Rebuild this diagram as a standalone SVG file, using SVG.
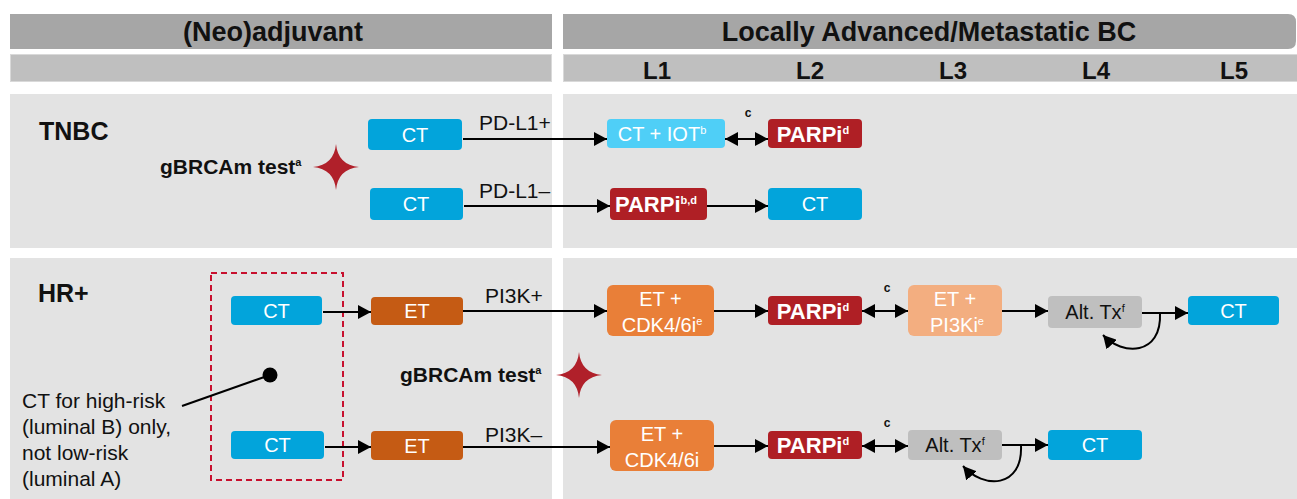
<svg xmlns="http://www.w3.org/2000/svg" width="1297" height="499" viewBox="0 0 1297 499">
  <defs>
    <style>
      text { font-family: "Liberation Sans", Arial, sans-serif; }
      .hdr { font-size: 27px; font-weight: bold; fill: #111; text-anchor: middle; }
      .ln { font-size: 24px; font-weight: bold; fill: #111; text-anchor: middle; }
      .grp { font-size: 25px; font-weight: bold; fill: #111; }
      .lbl { font-size: 21px; fill: #111; }
      .bt { font-size: 20px; fill: #fff; text-anchor: middle; }
      .btb { font-size: 22px; font-weight: bold; fill: #fff; text-anchor: middle; }
      .btk { font-size: 20px; fill: #111; text-anchor: middle; }
      .test { font-size: 21px; font-weight: bold; fill: #111; }
      .c { font-size: 12px; font-weight: bold; fill: #111; text-anchor: middle; }
      .sup { font-size: 11px; }
      .edge { stroke: #000; stroke-width: 2; fill: none; }
      .ct { fill: #02A4DB; }
      .iot { fill: #4FCFF7; }
      .parp { fill: #AF1F25; }
      .et { fill: #C55B14; }
      .etc { fill: #E97F38; }
      .etp { fill: #F3AE80; }
      .alt { fill: #BFBFBF; }
      .star { fill: #B0202A; }
    </style>
    <marker id="ah" viewBox="0 0 13 14" refX="13" refY="7" markerWidth="13" markerHeight="14" markerUnits="userSpaceOnUse" orient="auto-start-reverse">
      <path d="M0,0 L13,7 L0,14 Z" fill="#000"/>
    </marker>
    <path id="star4" d="M0,-23 Q2,-2 23,0 Q2,2 0,23 Q-2,2 -23,0 Q-2,-2 0,-23 Z"/>
  </defs>

  <!-- header bars -->
  <g id="header">
    <rect x="10" y="14" width="542" height="35" fill="#A6A6A6"/>
    <path d="M563,14 H1288 Q1296,14 1296,22 V41 Q1296,49 1288,49 H563 Z" fill="#A6A6A6"/>
    <rect x="10.5" y="54.5" width="541" height="27" fill="#BFBFBF" stroke="#D9D9D9" stroke-width="1"/>
    <rect x="563.5" y="54.5" width="734" height="27" fill="#BFBFBF" stroke="#D9D9D9" stroke-width="1"/>
    <text class="hdr" x="273" y="41">(Neo)adjuvant</text>
    <text class="hdr" x="929" y="41">Locally Advanced/Metastatic BC</text>
    <text class="ln" x="657" y="79">L1</text>
    <text class="ln" x="810" y="79">L2</text>
    <text class="ln" x="953" y="79">L3</text>
    <text class="ln" x="1096" y="79">L4</text>
    <text class="ln" x="1234" y="79">L5</text>
  </g>

  <!-- background panels -->
  <g id="panels" fill="#E3E3E3">
    <rect x="10" y="94" width="542" height="154"/>
    <rect x="563" y="94" width="734" height="154"/>
    <rect x="10" y="258" width="542" height="241"/>
    <rect x="563" y="258" width="734" height="241"/>
  </g>

  <!-- section labels and test markers -->
  <g id="tnbc-label"><text class="grp" x="39" y="140">TNBC</text></g>
  <g id="hr-label"><text class="grp" x="38" y="302">HR+</text></g>
  <g id="test-tnbc">
    <text class="test" x="160" y="174">gBRCAm test<tspan class="sup" dy="-8">a</tspan></text>
    <use href="#star4" class="star" x="336" y="167"/>
  </g>
  <g id="test-hr">
    <text class="test" x="400" y="382">gBRCAm test<tspan class="sup" dy="-8">a</tspan></text>
    <use href="#star4" class="star" x="579" y="375"/>
  </g>

  <!-- luminal B note -->
  <g id="note">
    <rect x="211" y="273" width="132" height="207" fill="none" stroke="#C8102E" stroke-width="2" stroke-dasharray="6,4"/>
    <path d="M182,406 L270,375" stroke="#000" stroke-width="2"/>
    <circle cx="270" cy="375" r="7.5" fill="#000"/>
    <text class="lbl" x="22" y="408">CT for high-risk</text>
    <text class="lbl" x="22" y="434">(luminal B) only,</text>
    <text class="lbl" x="22" y="460">not low-risk</text>
    <text class="lbl" x="22" y="486">(luminal A)</text>
  </g>

  <!-- connectors -->
  <g id="connectors" class="edge">
    <path d="M463,139 H607" marker-end="url(#ah)"/>
    <path d="M725,139 H768" marker-start="url(#ah)" marker-end="url(#ah)"/>
    <path d="M464,206 H610" marker-end="url(#ah)"/>
    <path d="M707,206 H768" marker-end="url(#ah)"/>

    <path d="M323,312 H371" marker-end="url(#ah)"/>
    <path d="M463,311 H607" marker-end="url(#ah)"/>
    <path d="M714,311 H768" marker-end="url(#ah)"/>
    <path d="M862,311 H908" marker-start="url(#ah)" marker-end="url(#ah)"/>
    <path d="M1002,311 H1048" marker-end="url(#ah)"/>
    <path d="M1142,313 H1188" marker-end="url(#ah)"/>
    <path d="M1160,313 C1162,356 1122,356 1103,335" marker-end="url(#ah)"/>

    <path d="M325,447 H371" marker-end="url(#ah)"/>
    <path d="M463,447 H610" marker-end="url(#ah)"/>
    <path d="M714,446 H768" marker-end="url(#ah)"/>
    <path d="M862,446 H908" marker-start="url(#ah)" marker-end="url(#ah)"/>
    <path d="M1002,445 H1048" marker-end="url(#ah)"/>
    <path d="M1021,445 C1023,489 983,489 963,466" marker-end="url(#ah)"/>
  </g>
  <g id="crossover-labels">
    <text class="lbl" x="479" y="130">PD-L1+</text>
    <text class="lbl" x="479" y="198">PD-L1–</text>
    <text class="lbl" x="485" y="303">PI3K+</text>
    <text class="lbl" x="485" y="442">PI3K–</text>
    <text class="c" x="748" y="117">c</text>
    <text class="c" x="887" y="292">c</text>
    <text class="c" x="887" y="427">c</text>
  </g>

  <!-- TNBC nodes -->
  <g id="tnbc-ct-pos"><rect class="ct" x="368" y="119" width="94" height="31" rx="4"/><text class="bt" x="415" y="142">CT</text></g>
  <g id="tnbc-ct-iot"><rect class="iot" x="607" y="119" width="118" height="29" rx="4"/><text class="bt" x="662" y="141">CT + IOT<tspan class="sup" dy="-7">b</tspan></text></g>
  <g id="tnbc-parpi-1"><rect class="parp" x="768" y="119" width="94" height="29" rx="4"/><text class="btb" x="813" y="142">PARPi<tspan class="sup" dy="-8">d</tspan></text></g>
  <g id="tnbc-ct-neg"><rect class="ct" x="370" y="188" width="93" height="32" rx="4"/><text class="bt" x="416" y="211">CT</text></g>
  <g id="tnbc-parpi-2"><rect class="parp" x="610" y="188" width="97" height="32" rx="4"/><text class="btb" x="656" y="212">PARPi<tspan class="sup" dy="-8">b,d</tspan></text></g>
  <g id="tnbc-ct-l2"><rect class="ct" x="768" y="188" width="94" height="32" rx="4"/><text class="bt" x="815" y="211">CT</text></g>

  <!-- HR+ PI3K+ row -->
  <g id="hr-ct-1"><rect class="ct" x="231" y="296" width="91" height="29" rx="4"/><text class="bt" x="276.5" y="318">CT</text></g>
  <g id="hr-et-1"><rect class="et" x="371" y="297" width="92" height="28" rx="4"/><text class="bt" x="417" y="318">ET</text></g>
  <g id="hr-et-cdk-1"><rect class="etc" x="607" y="285" width="107" height="51" rx="6"/><text class="bt" x="660.5" y="306">ET +</text><text class="bt" x="662" y="332">CDK4/6i<tspan class="sup" dy="-7">e</tspan></text></g>
  <g id="hr-parpi-1"><rect class="parp" x="768" y="296" width="94" height="29" rx="4"/><text class="btb" x="813" y="319">PARPi<tspan class="sup" dy="-8">d</tspan></text></g>
  <g id="hr-et-pi3ki"><rect class="etp" x="908" y="285" width="94" height="51" rx="6"/><text class="bt" x="955" y="306">ET +</text><text class="bt" x="957" y="332">PI3Ki<tspan class="sup" dy="-7">e</tspan></text></g>
  <g id="hr-alt-1"><rect class="alt" x="1048" y="296" width="94" height="32" rx="4"/><text class="btk" x="1095" y="319">Alt. Tx<tspan class="sup" dy="-7">f</tspan></text></g>
  <g id="hr-ct-l5"><rect class="ct" x="1188" y="296" width="91" height="29" rx="4"/><text class="bt" x="1233.5" y="318">CT</text></g>

  <!-- HR+ PI3K– row -->
  <g id="hr-ct-2"><rect class="ct" x="231" y="431" width="93" height="28" rx="4"/><text class="bt" x="277.5" y="452">CT</text></g>
  <g id="hr-et-2"><rect class="et" x="371" y="431" width="92" height="29" rx="4"/><text class="bt" x="417" y="453">ET</text></g>
  <g id="hr-et-cdk-2"><rect class="etc" x="610" y="420" width="104" height="51" rx="6"/><text class="bt" x="662" y="441">ET +</text><text class="bt" x="662" y="467">CDK4/6i</text></g>
  <g id="hr-parpi-2"><rect class="parp" x="768" y="431" width="94" height="28" rx="4"/><text class="btb" x="813" y="453">PARPi<tspan class="sup" dy="-8">d</tspan></text></g>
  <g id="hr-alt-2"><rect class="alt" x="908" y="430" width="94" height="30" rx="4"/><text class="btk" x="955" y="452">Alt. Tx<tspan class="sup" dy="-7">f</tspan></text></g>
  <g id="hr-ct-l4"><rect class="ct" x="1048" y="430" width="94" height="30" rx="4"/><text class="bt" x="1095" y="452">CT</text></g>
</svg>
